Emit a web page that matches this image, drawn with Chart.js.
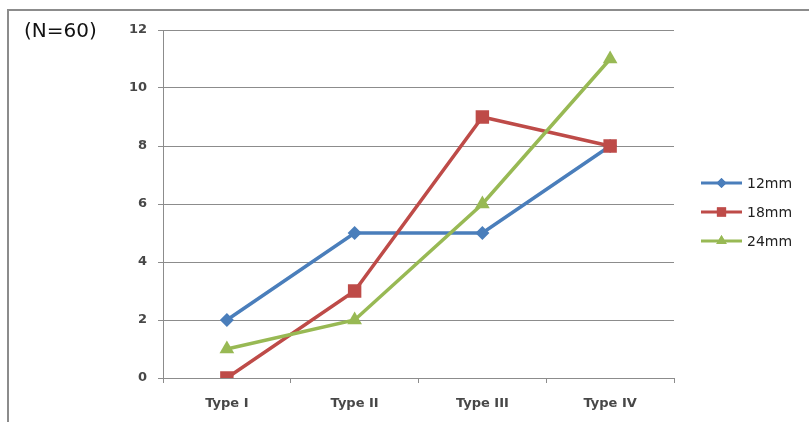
<!DOCTYPE html>
<html>
<head>
<meta charset="utf-8">
<script src="https://cdn.jsdelivr.net/npm/chart.js@4.4.1/dist/chart.umd.min.js"></script>
<style>
  html, body { margin: 0; padding: 0; background: #fff; }
  #wrap { position: relative; width: 809px; height: 422px; overflow: hidden; }
  #frame {
    position: absolute; left: 7px; top: 9px; width: 820px; height: 430px;
    border-top: 2px solid #8c8c8c; border-left: 2px solid #8c8c8c;
    box-sizing: border-box; pointer-events: none;
  }
  #note {
    position: absolute; left: 24px; top: 18px;
    font-family: "DejaVu Sans", sans-serif; font-size: 20px; color: #111;
  }
  canvas { position: absolute; left: 0; top: 0; }
</style>
</head>
<body>
<div id="wrap">
  <canvas id="c" width="809" height="422"></canvas>
  <div id="frame"></div>
  <div id="note">(N=60)</div>
</div>
<script>
const categories = ["Type I", "Type II", "Type III", "Type IV"];
const seriesNames = ["12mm", "18mm", "24mm"];
const values12 = [2, 5, 5, 8];
const values18 = [0, 3, 9, 8];
const values24 = [1, 2, 6, 11];
const yTicks = [0, 2, 4, 6, 8, 10, 12];

const colors = ["#4a7ebb", "#be4b48", "#98b954"];
const shapes = ["rectRot", "rect", "triangle"];
const radii = [7, 9.5, 8.5];
const legendRadii = [5, 6.5, 6];
const seriesValues = [values12, values18, values24];

const datasets = seriesNames.map((name, i) => ({
  label: name,
  data: seriesValues[i],
  borderColor: colors[i],
  backgroundColor: colors[i],
  borderWidth: 3.5,
  pointStyle: shapes[i],
  pointRadius: radii[i],
  pointBorderWidth: 0,
  pointHoverRadius: radii[i],
  tension: 0,
  order: seriesNames.length - i
}));

// Legend on the right: a short line with the series marker, then its name
const sideLegend = {
  id: "sideLegend",
  afterDraw(chart) {
    const ctx = chart.ctx;
    const x0 = 701, x1 = 742, tx = 747;
    const rowY = [183, 212, 241];
    chart.data.datasets.forEach((ds, i) => {
      const y = rowY[i];
      ctx.save();
      ctx.strokeStyle = ds.borderColor;
      ctx.lineWidth = 3;
      ctx.beginPath();
      ctx.moveTo(x0, y);
      ctx.lineTo(x1, y);
      ctx.stroke();
      ctx.fillStyle = ds.backgroundColor;
      ctx.beginPath();
      Chart.helpers.drawPoint(ctx, { pointStyle: ds.pointStyle, rotation: 0, borderWidth: 0, radius: legendRadii[i] }, (x0 + x1) / 2, y);
      ctx.fill();
      ctx.fillStyle = "#222";
      ctx.font = "14px 'DejaVu Sans', sans-serif";
      ctx.textBaseline = "middle";
      ctx.textAlign = "left";
      ctx.fillText(ds.label, tx, y + 1);
      ctx.restore();
    });
  }
};

new Chart(document.getElementById("c"), {
  type: "line",
  data: { labels: categories, datasets },
  options: {
    responsive: false,
    animation: false,
    events: [],
    layout: { padding: { left: 0, right: 135, top: 30, bottom: 0 } },
    plugins: { legend: { display: false }, tooltip: { enabled: false } },
    scales: {
      x: {
        offset: true,
        grid: { offset: true, drawOnChartArea: false, drawTicks: true, tickLength: 5, color: "#8c8c8c", lineWidth: 1 },
        border: { display: true, color: "#8c8c8c", width: 1 },
        ticks: { color: "#474747", padding: 13, font: { family: "DejaVu Sans", size: 13, weight: "bold" } },
        afterFit(scale) { scale.height = 44; }
      },
      y: {
        min: 0,
        max: 12,
        afterBuildTicks(scale) { scale.ticks = yTicks.map(v => ({ value: v })); },
        grid: { color: "#8c8c8c", lineWidth: 1, drawTicks: true, tickLength: 5 },
        border: { display: true, color: "#8c8c8c", width: 1 },
        ticks: { color: "#474747", padding: 11, font: { family: "DejaVu Sans", size: 13, weight: "bold" } },
        afterFit(scale) { scale.width = 163; }
      }
    }
  },
  plugins: [sideLegend]
});
</script>
</body>
</html>
